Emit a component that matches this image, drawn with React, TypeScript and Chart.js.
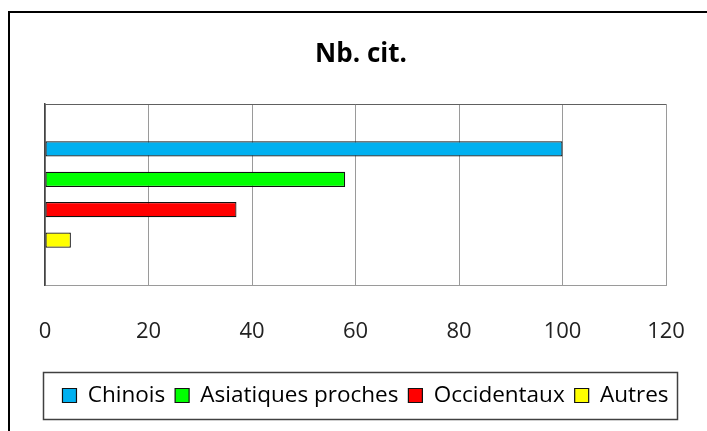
import React, { useEffect, useRef } from "react";
import { Chart, registerables } from "chart.js";

Chart.register(...registerables);

const categories: string[] = [""];
const seriesNames: string[] = ["Chinois", "Asiatiques proches", "Occidentaux", "Autres"];
const seriesValues: number[][] = [[100], [58], [37], [5]];
const seriesColors: string[] = ["#00B0F0", "#00FF00", "#FF0000", "#FFFF00"];
const xTicks: number[] = [0, 20, 40, 60, 80, 100, 120];
const titleText = "Nb. cit.";

const FONT = "'Open Sans', 'Noto Sans', sans-serif";

const framePlugin = {
  id: "excelFrame",
  afterLayout(chart: any) {
    // Excel places legend and title independently of the plot area
    if (chart.legend) {
      chart.legend.left += 12;
      chart.legend.right += 12;
    }
    if (chart.titleBlock) {
      chart.titleBlock.left += 7.5;
      chart.titleBlock.right += 7.5;
    }
  },
  beforeDatasetsDraw(chart: any) {
    const { ctx, chartArea } = chart;
    ctx.save();
    ctx.strokeStyle = "#606060";
    ctx.lineWidth = 1;
    ctx.beginPath();
    ctx.moveTo(chartArea.left, Math.round(chartArea.top) + 0.5);
    ctx.lineTo(chartArea.right, Math.round(chartArea.top) + 0.5);
    ctx.stroke();
    ctx.restore();
  },
  afterDraw(chart: any) {
    const lg = chart.legend;
    if (!lg || !lg.legendHitBoxes || !lg.legendHitBoxes.length) return;
    const boxes = lg.legendHitBoxes;
    const first = boxes[0];
    const last = boxes[boxes.length - 1];
    const cy = first.top + first.height / 2;
    const left = first.left - 19;
    const right = last.left + last.width + 9;
    const top = cy - 23.5;
    const bottom = cy + 23.5;
    const { ctx } = chart;
    ctx.save();
    ctx.strokeStyle = "#404040";
    ctx.lineWidth = 1.5;
    ctx.strokeRect(Math.round(left) + 0.5, Math.round(top) + 0.5, Math.round(right - left), Math.round(bottom - top));
    ctx.restore();
  },
};

export default function App() {
  const ref = useRef<HTMLCanvasElement | null>(null);

  useEffect(() => {
    if (!ref.current) return;
    const chart = new Chart(ref.current, {
      type: "bar",
      data: {
        labels: categories,
        datasets: seriesNames.map((name, i) => ({
          label: name,
          data: seriesValues[i],
          backgroundColor: seriesColors[i],
          borderColor: "#111111",
          borderWidth: 1.2,
          borderSkipped: false,
          categoryPercentage: 0.672,
          barPercentage: 0.5,
          yAxisID: "y",
        })),
      },
      options: {
        indexAxis: "y",
        animation: false,
        responsive: false,
        maintainAspectRatio: false,
        devicePixelRatio: 1,
        layout: { padding: { left: 0, right: 0, top: 0, bottom: 14.25 } },
        plugins: {
          title: {
            display: true,
            text: titleText,
            color: "#000000",
            font: { family: FONT, size: 26, weight: "bold" },
            padding: { top: 39, bottom: 33.8 },
          },
          legend: {
            display: true,
            position: "bottom",
            labels: {
              color: "#000000",
              font: { family: FONT, size: 22.5 },
              boxWidth: 14,
              boxHeight: 14,
              padding: 10,
            },
          },
          tooltip: { enabled: false },
        },
        scales: {
          x: {
            type: "linear",
            min: xTicks[0],
            max: xTicks[xTicks.length - 1],
            afterBuildTicks: (scale: any) => {
              scale.ticks = xTicks.map((v) => ({ value: v }));
            },
            afterFit: (scale: any) => {
              scale.height = 89.25;
            },
            grid: {
              color: "#9a9a9a",
              lineWidth: 1,
              drawTicks: true,
              tickLength: 31,
              tickColor: "rgba(0,0,0,0)",
            },
            border: { display: true, color: "#9a9a9a", width: 1 },
            ticks: {
              color: "#222222",
              font: { family: FONT, size: 22 },
              padding: 2.8,
              maxRotation: 0,
            },
          },
          y: {
            type: "category",
            position: "left",
            display: true,
            grid: { display: false, drawTicks: false },
            border: { display: true, color: "#444444", width: 1.5 },
            ticks: { display: false },
            afterFit: (scale: any) => {
              scale.width = 45;
            },
          },
          yRight: {
            type: "category",
            position: "right",
            display: true,
            grid: { display: false, drawTicks: false },
            border: { display: false },
            ticks: { display: false },
            afterFit: (scale: any) => {
              scale.width = 41;
            },
          },
        },
      },
      plugins: [framePlugin],
    } as any);
    return () => chart.destroy();
  }, []);

  return (
    <div style={{ position: "absolute", left: 0, top: 0, width: 707, height: 431, background: "#ffffff", overflow: "hidden" }}>
      <div
        style={{
          position: "absolute",
          left: 8,
          top: 11,
          width: 720,
          height: 440,
          borderLeft: "2px solid #000",
          borderTop: "2px solid #000",
          boxSizing: "border-box",
        }}
      />
      <canvas ref={ref} width={707} height={431} style={{ position: "absolute", left: 0, top: 0, width: 707, height: 431 }} />
    </div>
  );
}
